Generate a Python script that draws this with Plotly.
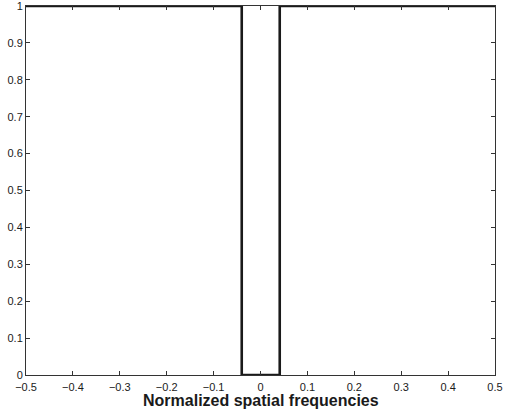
import plotly.graph_objects as go

# Notch filter response
freq = [-0.5, -0.040, -0.040, 0.041, 0.041, 0.5]
gain = [1, 1, 0, 0, 1, 1]

x_ticks = [-0.5, -0.4, -0.3, -0.2, -0.1, 0, 0.1, 0.2, 0.3, 0.4, 0.5]
x_labels = ["\u22120.5", "\u22120.4", "\u22120.3", "\u22120.2", "\u22120.1", "0",
            "0.1", "0.2", "0.3", "0.4", "0.5"]
y_ticks = [0, 0.1, 0.2, 0.3, 0.4, 0.5, 0.6, 0.7, 0.8, 0.9, 1]
y_labels = ["0", "0.1", "0.2", "0.3", "0.4", "0.5", "0.6", "0.7", "0.8", "0.9", "1"]
x_title = "Normalized spatial frequencies"

fig = go.Figure()
fig.add_trace(go.Scatter(x=freq, y=gain, mode="lines",
                         line=dict(color="#1a1a1a", width=2.6), showlegend=False,
                         cliponaxis=False, hoverinfo="skip"))

axis_common = dict(showgrid=False, zeroline=False, showline=True, linecolor="#333333",
                   linewidth=1, mirror="ticks", ticks="inside", ticklen=4, tickwidth=1,
                   tickcolor="#333333", automargin=False, ticklabeloverflow="allow",
                   tickfont=dict(family="Arial", size=11, color="#1a1a1a"))

fig.update_xaxes(range=[-0.5, 0.5], tickvals=x_ticks, ticktext=x_labels,
                 ticklabelstandoff=2, **axis_common)
fig.update_yaxes(range=[0, 1], tickvals=y_ticks, ticktext=y_labels, **axis_common)

fig.add_annotation(text="<b>" + x_title + "</b>", xref="paper", yref="paper",
                   x=0.5, y=-0.068, xanchor="center", yanchor="middle", showarrow=False,
                   font=dict(family="Arial", size=16, color="#1a1a1a"))

fig.update_layout(width=511, height=413, margin=dict(l=26, r=16, t=6, b=38),
                  paper_bgcolor="white", plot_bgcolor="white")
fig.write_html("out.html", config={"displayModeBar": False},
               post_script="document.body.style.margin='0';document.body.style.overflow='hidden';")
